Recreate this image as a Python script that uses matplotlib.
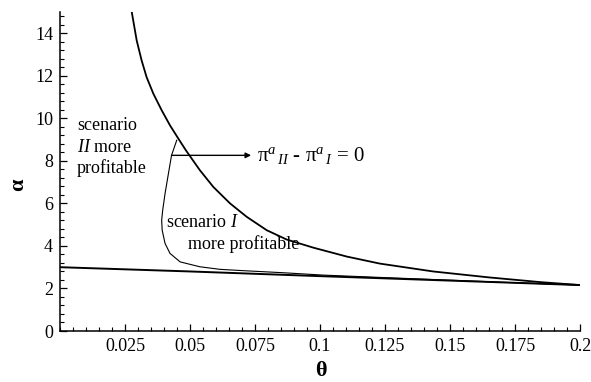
import matplotlib
matplotlib.use('Agg')
import matplotlib.pyplot as plt
from matplotlib.ticker import MultipleLocator, FixedLocator

plt.rcParams['font.family'] = ['Liberation Serif', 'DejaVu Serif']
plt.rcParams['mathtext.fontset'] = 'custom'
plt.rcParams['mathtext.rm'] = 'Liberation Serif'
plt.rcParams['mathtext.it'] = 'Liberation Serif:italic'
plt.rcParams['mathtext.bf'] = 'Liberation Serif:bold'

# upper curve
upper_theta = [0.0276, 0.0295, 0.0314, 0.0333, 0.0359, 0.0391, 0.0423,
               0.0455, 0.0484, 0.0538, 0.059, 0.0654, 0.0718, 0.0795, 0.0872,
               0.0974, 0.1103, 0.123, 0.1435, 0.165, 0.1846, 0.2]
upper_alpha = [15.0, 13.66, 12.72, 11.94, 11.16, 10.38, 9.67,
               9.05, 8.5, 7.56, 6.77, 6.0, 5.37, 4.74, 4.3,
               3.92, 3.5, 3.17, 2.80, 2.52, 2.3, 2.16]

# lower line
lower_theta = [0.0, 0.05, 0.1, 0.15, 0.2]
lower_alpha = [3.0, 2.8, 2.58, 2.37, 2.16]

# pi_II - pi_I = 0 contour
zero_theta = [0.0449, 0.0429, 0.0417, 0.0404, 0.0395, 0.0391, 0.0393, 0.0404,
              0.0423, 0.0462, 0.0538, 0.0615, 0.07, 0.0858, 0.101, 0.125,
              0.15, 0.175, 0.2]
zero_alpha = [8.97, 8.26, 7.4, 6.46, 5.68, 5.21, 4.74, 4.12,
              3.65, 3.25, 3.02, 2.9, 2.84, 2.74, 2.63, 2.51,
              2.39, 2.27, 2.16]

x_ticks = [0.025, 0.05, 0.075, 0.1, 0.125, 0.15, 0.175, 0.2]
x_labels = ['0.025', '0.05', '0.075', '0.1', '0.125', '0.15', '0.175', '0.2']
y_ticks = [0, 2, 4, 6, 8, 10, 12, 14]

fig = plt.figure(figsize=(5.91, 3.82), dpi=100)
ax = fig.add_axes([60 / 591, 1 - 331 / 382, 520 / 591, 319 / 382])

ax.plot(upper_theta, upper_alpha, color='black', lw=1.3)
ax.plot(lower_theta, lower_alpha, color='black', lw=1.4)
ax.plot(zero_theta, zero_alpha, color='black', lw=0.8)

ax.set_xlim(0, 0.2)
ax.set_ylim(0, 15)
ax.spines['top'].set_visible(False)
ax.spines['right'].set_visible(False)
ax.spines['left'].set_linewidth(1.1)
ax.spines['bottom'].set_linewidth(1.1)

ax.xaxis.set_major_locator(FixedLocator(x_ticks))
ax.set_xticklabels(x_labels)
ax.xaxis.set_minor_locator(MultipleLocator(0.005))
ax.yaxis.set_major_locator(FixedLocator(y_ticks))
ax.yaxis.set_minor_locator(MultipleLocator(0.4))
ax.tick_params(which='major', direction='in', length=5, width=0.9, labelsize=13, pad=5)
ax.tick_params(which='minor', direction='in', length=3, width=0.8)

fig.text(18 / 591, 1 - 185 / 382, 'α', fontsize=16, fontweight='bold',
         rotation=90, ha='center', va='center')
fig.text(321 / 591, 1 - 371 / 382, 'θ', fontsize=16, fontweight='bold',
         ha='center', va='center')

ax.text(0.0065, 9.67, 'scenario', fontsize=13, va='center')
ax.text(0.0065, 8.64, r'$II$ more', fontsize=13, va='center')
ax.text(0.0065, 7.65, 'profitable', fontsize=13, va='center')
ax.text(0.0406, 5.12, r'scenario $I$', fontsize=13, va='center')
ax.text(0.0494, 4.08, 'more profitable', fontsize=13, va='center')

ax.annotate('', xy=(0.0735, 8.26), xytext=(0.0429, 8.26),
            arrowprops=dict(arrowstyle='-|>', color='black', lw=1.0,
                            mutation_scale=8, shrinkA=0, shrinkB=0))
ax.text(0.0758, 8.26,
        r'$\mathrm{\pi}^{a}{}_{\,II}$ - $\mathrm{\pi}^{a}{}_{\,I}$ = 0',
        fontsize=15, va='center')

fig.savefig('out.png', dpi=100)
